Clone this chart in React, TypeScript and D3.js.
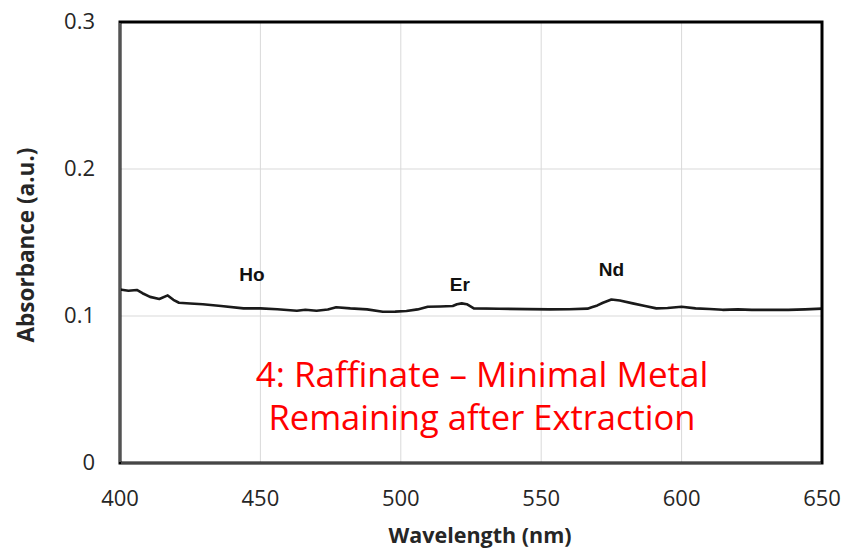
import * as d3 from 'd3';

const wavelength = [400, 403, 406, 408, 410.7, 414, 417, 419, 421, 425, 429.5, 436, 444, 450, 456, 463, 466, 470, 474, 477, 482, 488, 493.6, 498, 502, 506, 509.6, 514, 518.5, 520, 521.7, 523.5, 526, 535, 545, 553, 560, 566.5, 568, 570, 572, 575, 578, 582.6, 587, 591, 595, 600, 605, 610, 614.6, 620, 625, 630, 638, 644, 650];
const absorbance = [0.118, 0.1172, 0.1177, 0.1155, 0.113, 0.1116, 0.114, 0.111, 0.109, 0.1085, 0.108, 0.1068, 0.1052, 0.1052, 0.1046, 0.1036, 0.1042, 0.1036, 0.1044, 0.106, 0.1052, 0.1045, 0.1029, 0.103, 0.1034, 0.1045, 0.1063, 0.1065, 0.1068, 0.108, 0.1086, 0.108, 0.1052, 0.1049, 0.1047, 0.1045, 0.1046, 0.105, 0.106, 0.1072, 0.109, 0.1112, 0.1105, 0.1086, 0.1068, 0.1052, 0.1054, 0.1063, 0.1052, 0.1048, 0.1042, 0.1045, 0.1042, 0.1042, 0.1042, 0.1045, 0.105];
const xTicks = [400, 450, 500, 550, 600, 650];
const yTicks = [0, 0.1, 0.2, 0.3];
const peakLabels = ['Ho', 'Er', 'Nd'];
const peakX = [447, 521, 575];
const peakY = [0.1235, 0.117, 0.127];
const noteLines = ['4: Raffinate \u2013 Minimal Metal', 'Remaining after Extraction'];

export default function App() {
  const width = 843;
  const height = 551;
  const m = { left: 120, right: 21, top: 22, bottom: 88 };
  const x = d3.scaleLinear().domain([400, 650]).range([m.left, width - m.right]);
  const y = d3.scaleLinear().domain([0, 0.3]).range([height - m.bottom, m.top]);
  const line = d3.line<number>().x((d, i) => x(wavelength[i])).y(d => y(d));
  const font = "'Open Sans', 'Noto Sans', sans-serif";

  return (
    <svg width={width} height={height} style={{ position: 'absolute', left: 0, top: 0 }} fontFamily={font}>
      <rect width={width} height={height} fill="#fff" />
      {xTicks.slice(1, -1).map(t => (
        <line key={'gx' + t} x1={x(t)} x2={x(t)} y1={y(0.3)} y2={y(0)} stroke="#d9d9d9" strokeWidth={1} />
      ))}
      {yTicks.slice(1, -1).map(t => (
        <line key={'gy' + t} x1={x(400)} x2={x(650)} y1={y(t)} y2={y(t)} stroke="#d9d9d9" strokeWidth={1} />
      ))}
      <path d={line(absorbance) || ''} fill="none" stroke="#1a1a1a" strokeWidth={2.6} strokeLinejoin="round" />
      <rect x={x(400)} y={y(0.3)} width={x(650) - x(400)} height={y(0) - y(0.3)} fill="none" stroke="#000" strokeWidth={3} />
      <line x1={x(400)} x2={x(400)} y1={y(0.3) + 1} y2={y(0) - 1} stroke="#8c8c8c" strokeWidth={1.2} />
      <line x1={x(400) + 1} x2={x(650) - 1} y1={y(0)} y2={y(0)} stroke="#8c8c8c" strokeWidth={1.2} />
      {xTicks.map(t => (
        <text key={'tx' + t} x={x(t)} y={y(0) + 43} textAnchor="middle" fontSize={22} fill="#262626">{t}</text>
      ))}
      {yTicks.map(t => (
        <text key={'ty' + t} x={x(400) - 25} y={y(t) + 7} textAnchor="end" fontSize={22} fill="#262626">{t === 0 ? '0' : d3.format('.1f')(t)}</text>
      ))}
      {peakLabels.map((p, i) => (
        <text key={p} x={x(peakX[i])} y={y(peakY[i])} textAnchor="middle" fontSize={19} fontWeight="bold" fill="#111" fontFamily="'Liberation Sans', Arial, sans-serif">{p}</text>
      ))}
      {noteLines.map((s, i) => (
        <text key={s} x={482} y={387 + i * 43} textAnchor="middle" fontSize={i === 0 ? 35 : 34.5} fill="#ff0000">{s}</text>
      ))}
      <text x={480} y={543} textAnchor="middle" fontSize={21.5} fontWeight="bold" fill="#262626">Wavelength (nm)</text>
      <text transform={`translate(34,${245}) rotate(-90)`} textAnchor="middle" fontSize={22.5} fontWeight="bold" fill="#262626">Absorbance (a.u.)</text>
    </svg>
  );
}
